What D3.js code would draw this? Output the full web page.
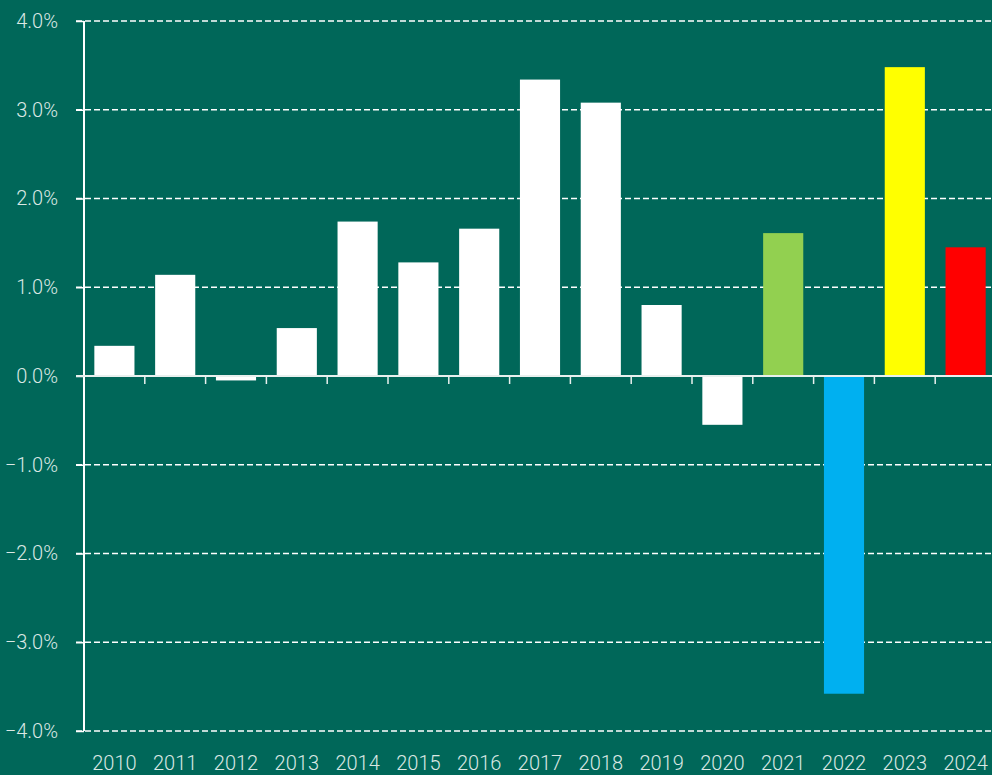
<!DOCTYPE html>
<html>
<head>
<meta charset="UTF-8">
<script src="https://d3js.org/d3.v7.min.js"></script>
<style>
  html, body { margin: 0; padding: 0; background: #006759; overflow: hidden; }
  text { font-family: Roboto, "Open Sans", sans-serif; font-weight: 300; fill: #dbe8e4; }
</style>
</head>
<body>
<svg width="992" height="775"></svg>
<script>
// years and growth rate (%)
const years = ["2010","2011","2012","2013","2014","2015","2016","2017","2018","2019","2020","2021","2022","2023","2024"];
const values = [0.34, 1.14, -0.05, 0.54, 1.74, 1.28, 1.66, 3.34, 3.08, 0.80, -0.55, 1.61, -3.58, 3.48, 1.45];
const barColors = ["#fff","#fff","#fff","#fff","#fff","#fff","#fff","#fff","#fff","#fff","#fff","#92d050","#00b0f0","#ffff00","#ff0000"];
const yTicks = [-4, -3, -2, -1, 0, 1, 2, 3, 4];

const svg = d3.select("svg");
const mLeft = 84, mRight = 996, mTop = 21, mBottom = 731;

const x = d3.scaleBand()
  .domain(years)
  .range([mLeft, mRight])
  .paddingInner(0.34)
  .paddingOuter(0.17);

const y = d3.scaleLinear()
  .domain([-4, 4])
  .range([mBottom, mTop]);

// gridlines
svg.append("g")
  .selectAll("line")
  .data(yTicks.filter(d => d !== 0))
  .join("line")
  .attr("x1", mLeft - 8)
  .attr("x2", 992)
  .attr("y1", d => y(d))
  .attr("y2", d => y(d))
  .attr("stroke", "#fff")
  .attr("stroke-width", 1.5)
  .attr("stroke-dasharray", "6,3");

// bars
svg.append("g")
  .selectAll("rect")
  .data(values)
  .join("rect")
  .attr("x", (d, i) => x(years[i]))
  .attr("width", x.bandwidth())
  .attr("y", d => y(Math.max(0, d)))
  .attr("height", d => Math.abs(y(d) - y(0)))
  .attr("fill", (d, i) => barColors[i]);

// y axis
const yAxis = svg.append("g")
  .attr("transform", `translate(${mLeft},0)`)
  .call(d3.axisLeft(y).tickValues(yTicks).tickSize(8).tickFormat(d => d3.format(".1f")(d) + "%"));
yAxis.select(".domain").attr("stroke", "#fff").attr("stroke-width", 2).attr("d", `M0,${mTop}V${mBottom}`);
yAxis.selectAll(".tick line").attr("stroke", "#fff").attr("stroke-width", 1.5);
yAxis.selectAll(".tick text").attr("x", -26).attr("font-size", 20).attr("fill", "#dbe8e4")
  .attr("font-family", null);

// zero line with ticks between categories
const zero = svg.append("g");
zero.append("line")
  .attr("x1", mLeft - 8).attr("x2", 992)
  .attr("y1", y(0)).attr("y2", y(0))
  .attr("stroke", "#e8f0ee").attr("stroke-width", 2);
const gap = (x.step() - x.bandwidth()) / 2;
zero.selectAll(".sep")
  .data(years.slice(1))
  .join("line")
  .attr("class", "sep")
  .attr("x1", d => x(d) - gap)
  .attr("x2", d => x(d) - gap)
  .attr("y1", y(0)).attr("y2", y(0) + 8)
  .attr("stroke", "#e8f0ee").attr("stroke-width", 1.5);

// x labels
svg.append("g")
  .selectAll("text")
  .data(years)
  .join("text")
  .attr("x", d => x(d) + x.bandwidth() / 2)
  .attr("y", 770)
  .attr("text-anchor", "middle")
  .attr("font-size", 20)
  .text(d => d);
</script>
</body>
</html>
